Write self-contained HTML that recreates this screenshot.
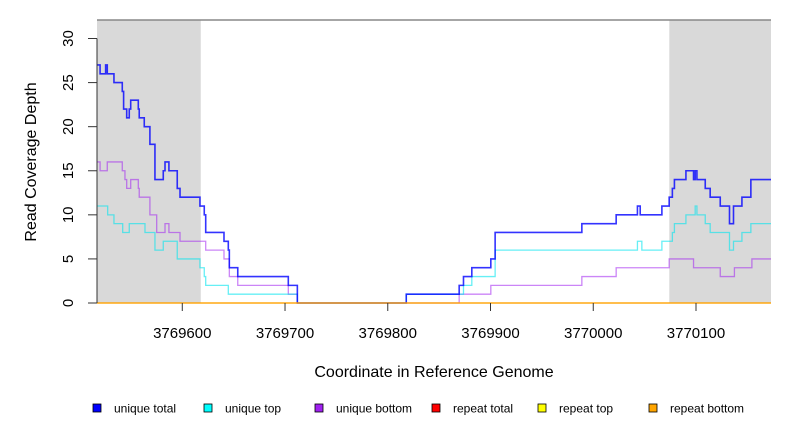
<!DOCTYPE html>
<html><head><meta charset="utf-8">
<style>
html,body{margin:0;padding:0;background:#fff;}
svg text{font-family:"Liberation Sans",sans-serif;}
</style></head>
<body>
<svg id="chart" width="792" height="432" xmlns="http://www.w3.org/2000/svg"></svg>
<script>
const xTicks = [3769600,3769700,3769800,3769900,3770000,3770100];
const yTicks = [0,5,10,15,20,25,30];
const regions = [[3769517,3769618],[3770074,3770173]];
const totalX = [3769517,3769520,3769525.4,3769527,3769533.5,3769541.6,3769542.9,3769545.9,3769548.4,3769549.8,3769557.2,3769558.1,3769563,3769568.5,3769573.4,3769581.5,3769583.2,3769587,3769595.1,3769597.8,3769617.2,3769621.4,3769622.8,3769640.6,3769644.8,3769645.8,3769654,3769703.2,3769712,3769818,3769869.5,3769873.7,3769881.8,3769900.3,3769904.5,3769988.9,3770022.3,3770043,3770045.7,3770066.8,3770073.9,3770077,3770079,3770090.2,3770097.6,3770099.2,3770100.9,3770109,3770113.8,3770123.6,3770132.6,3770136.5,3770144.7,3770153.4,3770173];
const totalY = [27,26,27,26,25,24,22,21,22,23,22,21,20,18,14,15,16,15,13,12,11,10,8,7,6,4,3,2,0,1,2,3,4,5,8,9,10,11,10,11,12,13,14,15,14,15,14,13,12,11,9,11,12,14,14];
const topX = [3769517,3769527.4,3769533.5,3769542,3769548.4,3769563.7,3769573.4,3769581.5,3769595.1,3769617.2,3769621.4,3769622.8,3769644.8,3769712,3769818,3769873.7,3769881.8,3769904.5,3770043,3770047.3,3770066.8,3770073.9,3770077,3770079,3770090.2,3770099.2,3770100.9,3770109,3770113.8,3770132.6,3770136.5,3770144.7,3770153.4,3770173];
const topY = [11,10,9,8,9,8,6,7,5,4,3,2,1,0,1,2,3,6,7,6,7,7,8,9,10,11,10,9,8,6,7,8,9,9];
const botX = [3769517,3769520,3769527,3769541.6,3769544.2,3769545.9,3769549.8,3769557.2,3769558.1,3769568.5,3769575.1,3769583.2,3769587,3769597.8,3769622.8,3769640.6,3769645.8,3769654,3769703.2,3769712,3769869.5,3769900.3,3769988.9,3770022.3,3770073.9,3770097.6,3770123.6,3770137.4,3770154.4,3770173];
const botY = [16,15,16,15,14,13,14,13,12,10,8,9,8,7,6,5,3,2,1,0,1,2,3,4,5,4,3,4,5,5];
const repX = [3769517,3770173];
const repY = [0,0];
const legendLabels = ["unique total","unique top","unique bottom","repeat total","repeat top","repeat bottom"];
const legendColors = ["#0000ff","#00ffff","#a020f0","#ff0000","#ffff00","#ffa500"];

const NS="http://www.w3.org/2000/svg";
const svg=document.getElementById('chart');
const L=97,R=771,T=20,B=303;
const xMin=3769517,xMax=3770173,yMin=0,yMax=32.1;
function sx(v){return L+(v-xMin)/(xMax-xMin)*(R-L);}
function sy(v){return B-(v-yMin)/(yMax-yMin)*(B-T);}
function el(tag,attrs,parent){const e=document.createElementNS(NS,tag);for(const k in attrs)e.setAttribute(k,attrs[k]);(parent||svg).appendChild(e);return e;}

regions.forEach(r=>{
  const e=el('rect',{x:sx(r[0]),y:T,width:sx(r[1])-sx(r[0]),height:B-T,fill:'#d9d9d9'});
  
  
});
const topBorder=el('line',{x1:L,x2:R,y1:T,y2:T,stroke:'#888','stroke-width':1.5});



function stepPath(xs,ys){
  let d='M'+sx(xs[0])+','+sy(ys[0]);
  for(let i=1;i<xs.length;i++){d+=' H'+sx(xs[i])+' V'+sy(ys[i]);}
  return d;
}
function series(xs,ys,color,op,w,name){
  const p=el('path',{d:stepPath(xs,ys),fill:'none',stroke:color,'stroke-opacity':op,'stroke-width':w});
  
  
}
series(botX,botY,'#a020f0',0.55,1.3,'series-unique-bottom');
series(topX,topY,'#00e5ee',0.6,1.3,'series-unique-top');
series(totalX,totalY,'#0000ff',0.8,1.6,'series-unique-total');
series(repX,repY,'#ff0000',0.5,1.3,'series-repeat-total');
series(repX,repY,'#ffff00',0.5,1.3,'series-repeat-top');
series(repX,repY,'#ffa500',0.9,1.3,'series-repeat-bottom');

const ya=el('line',{x1:L,x2:L,y1:sy(0),y2:sy(30),stroke:'#333'});


yTicks.forEach(t=>{
  const y=sy(t);
  const tk=el('line',{x1:L-9,x2:L,y1:y,y2:y,stroke:'#333'});
  
  
  const tx=el('text',{x:73,y:y,'font-size':15,'text-anchor':'middle',transform:'rotate(-90 73 '+y+')',fill:'#000'});
  tx.textContent=t;
  
  
});
xTicks.forEach(t=>{
  const x=sx(t);
  const tk=el('line',{x1:x,x2:x,y1:B,y2:B+8,stroke:'#333'});
  
  
  const tx=el('text',{x:x,y:338,'font-size':15,'text-anchor':'middle',fill:'#000'});
  tx.textContent=t;
  
  
});
const yt=el('text',{x:36,y:162,'font-size':16,'text-anchor':'middle',transform:'rotate(-90 36 162)',fill:'#000'});
yt.textContent='Read Coverage Depth';


const xt=el('text',{x:434,y:377,'font-size':16,'text-anchor':'middle',fill:'#000'});
xt.textContent='Coordinate in Reference Genome';



const lgX=[97,208,319,436,542,653];
legendLabels.forEach((lab,i)=>{
  const g=el('g',{});
  
  
  el('rect',{x:lgX[i]-4,y:404,width:8,height:8,fill:legendColors[i],stroke:'#000','stroke-width':0.8},g);
  const t=el('text',{x:lgX[i]+17,y:412.5,'font-size':12,fill:'#000'},g);
  t.textContent=lab;
});
</script>
</body></html>
